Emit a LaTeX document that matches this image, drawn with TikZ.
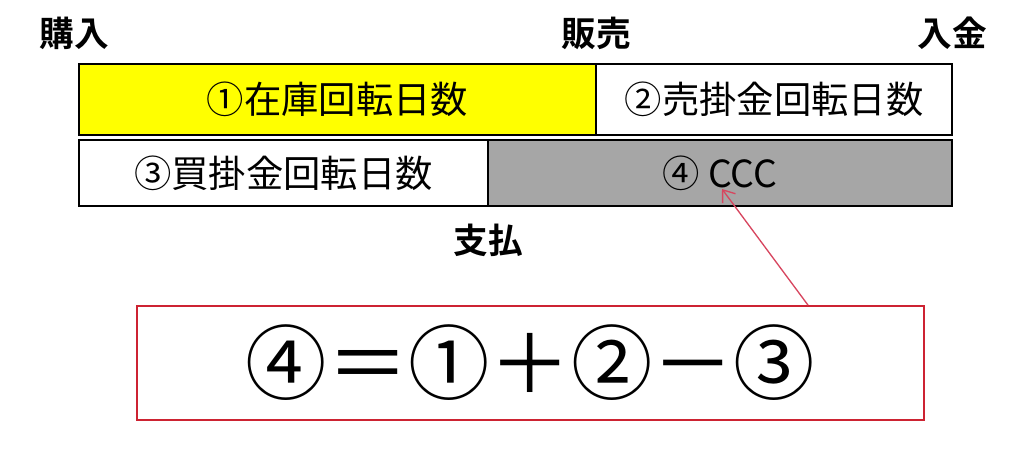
\documentclass[tikz,border=0pt]{standalone}
\usepackage{fontspec}
\setmainfont{Noto Sans CJK JP}[BoldFont={Noto Sans CJK JP Bold}]
\usetikzlibrary{arrows.meta}

\definecolor{boxyellow}{RGB}{255,255,0}
\definecolor{boxgray}{RGB}{166,166,166}
\definecolor{formred}{RGB}{205,35,50}
\definecolor{arrowred}{RGB}{215,70,95}

\tikzset{every picture/.style={line width=0.75pt}}

\begin{document}
\begin{tikzpicture}[x=0.75pt,y=0.75pt,yscale=-1,xscale=1,
  cell/.style={draw=black,line width=1.3pt,inner sep=0pt,font=\fontsize{28}{30}\selectfont},
  steplabel/.style={inner sep=0.75pt,font=\bfseries\fontsize{26}{28}\selectfont}]
\useasboundingbox (0,0) rectangle (1024,460);

%Shape: Rectangle [id:zaiko] 
\node (zaiko) [cell,fill=boxyellow,minimum width=387.75pt,minimum height=53.25pt] at (337.5,99.5) {①在庫回転日数};
%Shape: Rectangle [id:urikake] 
\node (urikake) [cell,fill=white,minimum width=267pt,minimum height=53.25pt] at (774,99.5) {②売掛金回転日数};
%Shape: Rectangle [id:kaikake] 
\node (kaikake) [cell,fill=white,minimum width=306.75pt,minimum height=49.5pt] at (283.5,173) {③買掛金回転日数};
%Shape: Rectangle [id:ccc] 
\node (ccc) [cell,fill=boxgray,minimum width=348pt,minimum height=49.5pt] at (720,173) {④ CCC};

% Text Node
\node (kounyu) [steplabel] at (74,33) {購入};
% Text Node
\node (hanbai) [steplabel] at (596,33) {販売};
% Text Node
\node (nyukin) [steplabel] at (952,33) {入金};
% Text Node
\node (shiharai) [steplabel] at (488,240) {支払};

%Shape: Rectangle [id:formula] 
\node (formula) [draw=formred,line width=1.3pt,inner sep=0pt,minimum width=590.25pt,minimum height=85.5pt,font=\fontsize{61}{63}\selectfont] at (530.5,363) {④＝①＋②－③};

%Straight Lines [id:arrow] 
\coordinate (arrowfoot) at (808,0);
\coordinate (ccctip) at (722,189);
\draw [arrowred,line width=1pt,-{Straight Barb[length=8pt,width=12pt]}] (formula.north -| arrowfoot) -- (ccctip) ;

\end{tikzpicture}
\end{document}
